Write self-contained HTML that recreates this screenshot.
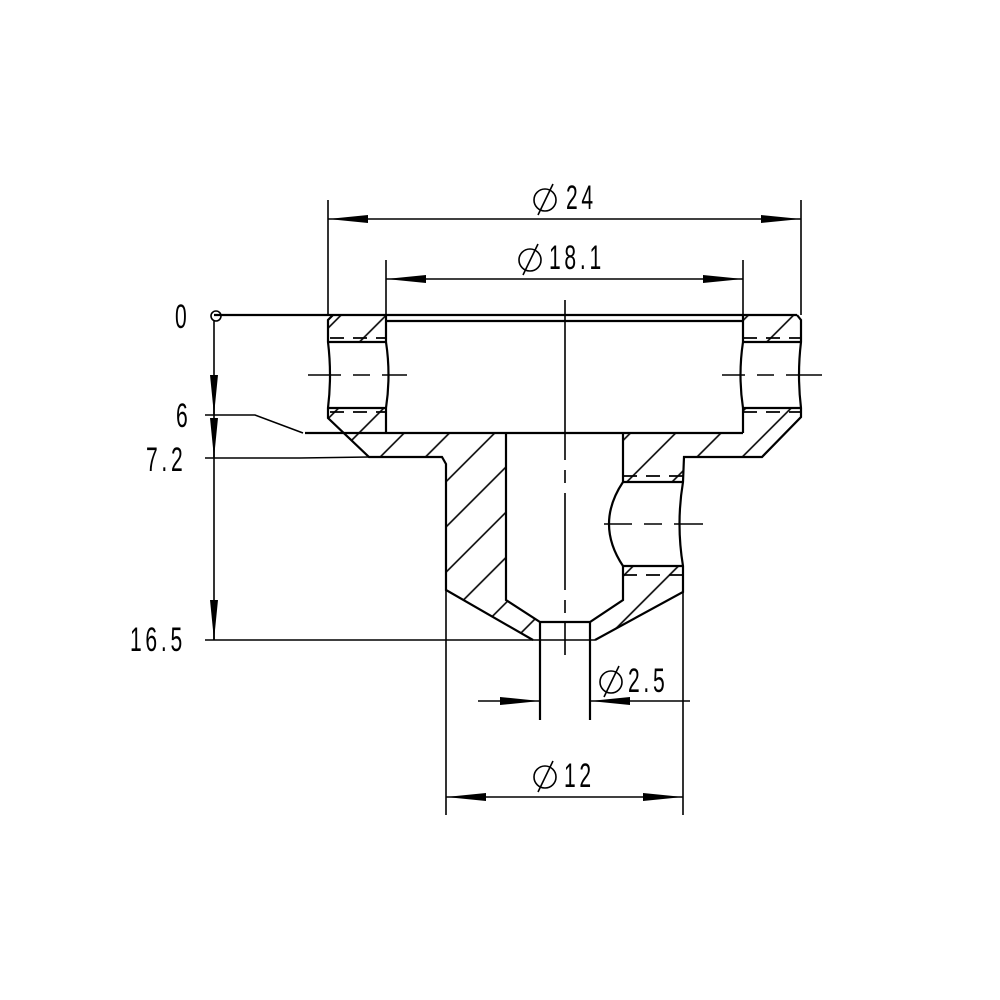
<!DOCTYPE html>
<html><head><meta charset="utf-8"><style>html,body{margin:0;padding:0;background:#fff}svg{display:block}</style></head>
<body>
<svg width="1000" height="1000" viewBox="0 0 1000 1000" xmlns="http://www.w3.org/2000/svg">
<defs>
<pattern id="h" patternUnits="userSpaceOnUse" width="32" height="32" patternTransform="rotate(45)">
<line x1="16" y1="0" x2="16" y2="32" stroke="#000" stroke-width="1.6"/>
</pattern>
<marker id="a" viewBox="0 0 40 10" refX="40" refY="5" markerWidth="40" markerHeight="10" markerUnits="userSpaceOnUse" orient="auto-start-reverse"><path d="M0,1 L40,5 L0,9 Z" fill="#000"/></marker>
</defs>
<g fill="url(#h)" stroke="none">
<polygon points="333,315 386,315 386,342 328,342 328,320"/>
<polygon points="328,408 386,408 386,433 506,433 506,600 540,622 540,640 533,640 446,590 446,464 442,457 369,457 328,418"/>
<polygon points="743,315 797,315 801,320 801,342 743,342"/>
<polygon points="743,408 801,408 801,417 762,457 684,457 683,482 623,482 623,433 743,433"/>
<polygon points="623,566 683,566 683,592 595,640 590,640 590,622 623,600"/>
</g>
<g fill="none" stroke="#000" stroke-width="2.2">
<line x1="214" y1="315" x2="797" y2="315"/>
<line x1="386" y1="321" x2="743" y2="321"/>
<path d="M333,315 L328,320 L328,342 Q332,375 328,408 L328,418 L369,457 L442,457 L446,464 L446,590 L533,640"/>
<path d="M386,315 L386,342 Q391,375 386,408 L386,433"/>
<line x1="328" y1="342" x2="386" y2="342"/>
<line x1="328" y1="408" x2="386" y2="408"/>
<path d="M743,315 L743,342 Q738,375 743,408 L743,433"/>
<path d="M797,315 L801,320 L801,342 Q797,375 801,408 L801,417 L762,457 L684,457 L683,482 Q676,524 683,566 L683,592 L595,640"/>
<line x1="743" y1="342" x2="801" y2="342"/>
<line x1="743" y1="408" x2="801" y2="408"/>
<line x1="305" y1="433" x2="743" y2="433"/>
<path d="M506,433 L506,600 L540,622 L590,622 L623,600 L623,566"/>
<path d="M623,433 L623,482 Q595,524 623,566"/>
<line x1="623" y1="482" x2="683" y2="482"/>
<line x1="623" y1="566" x2="683" y2="566"/>
<line x1="540" y1="622" x2="540" y2="720"/>
<line x1="590" y1="622" x2="590" y2="720"/>
</g>
<g fill="none" stroke="#000" stroke-width="1.8" stroke-dasharray="14,9">
<line x1="330" y1="338" x2="386" y2="338"/>
<line x1="330" y1="412" x2="386" y2="412"/>
<line x1="743" y1="338" x2="800" y2="338"/>
<line x1="743" y1="412" x2="800" y2="412"/>
<line x1="623" y1="476" x2="683" y2="476"/>
<line x1="623" y1="575" x2="683" y2="575"/>
</g>
<g fill="none" stroke="#000" stroke-width="1.6">
<path d="M308,375 H341 M353,375 H370 M382,375 H407" />
<path d="M722,375 H745 M757,375 H774 M786,375 H822" />
<path d="M604,524 H632 M644,524 H662 M674,524 H703" />
<path d="M565,300 V460 M565,470 V483 M565,493 V590 M565,600 V613 M565,623 V655"/>
<line x1="328" y1="200" x2="328" y2="315"/>
<line x1="801" y1="200" x2="801" y2="315"/>
<line x1="386" y1="260" x2="386" y2="315"/>
<line x1="743" y1="260" x2="743" y2="315"/>
<line x1="328" y1="219" x2="801" y2="219" marker-start="url(#a)" marker-end="url(#a)"/>
<line x1="386" y1="279" x2="743" y2="279" marker-start="url(#a)" marker-end="url(#a)"/>
<line x1="478" y1="701" x2="540" y2="701" marker-end="url(#a)"/>
<line x1="690" y1="701" x2="590" y2="701" marker-end="url(#a)"/>
<line x1="446" y1="590" x2="446" y2="815"/>
<line x1="683" y1="592" x2="683" y2="815"/>
<line x1="446" y1="797" x2="683" y2="797" marker-start="url(#a)" marker-end="url(#a)"/>
<circle cx="216" cy="316" r="5"/>
<line x1="214" y1="321" x2="214" y2="640"/>
<line x1="214" y1="375" x2="214" y2="415" marker-end="url(#a)"/>
<line x1="214" y1="418" x2="214" y2="458" marker-end="url(#a)"/>
<line x1="214" y1="600" x2="214" y2="640" marker-end="url(#a)"/>
<path d="M205,415 H255 L303,433"/>
<path d="M205,458 H300 L369,457"/>
<line x1="205" y1="640" x2="595" y2="640"/>
<circle cx="545" cy="200" r="11"/><line x1="538" y1="215" x2="553" y2="184"/>
<circle cx="530" cy="260" r="11"/><line x1="523" y1="275" x2="538" y2="244"/>
<circle cx="611" cy="682" r="11"/><line x1="604" y1="697" x2="619" y2="666"/>
<circle cx="545" cy="777" r="11"/><line x1="538" y1="792" x2="553" y2="761"/>
</g>
<g font-family="Liberation Sans, sans-serif" font-size="34" fill="#000" letter-spacing="6">
<text transform="translate(566,209) scale(0.62,1)">24</text>
<text transform="translate(549,269) scale(0.62,1)">18.1</text>
<text transform="translate(628,692) scale(0.62,1)">2.5</text>
<text transform="translate(564,787) scale(0.62,1)">12</text>
<text transform="translate(175,328) scale(0.62,1)">0</text>
<text transform="translate(176,427) scale(0.62,1)">6</text>
<text transform="translate(146,471) scale(0.62,1)">7.2</text>
<text transform="translate(130,651) scale(0.62,1)">16.5</text>
</g>
</svg>
</body></html>
